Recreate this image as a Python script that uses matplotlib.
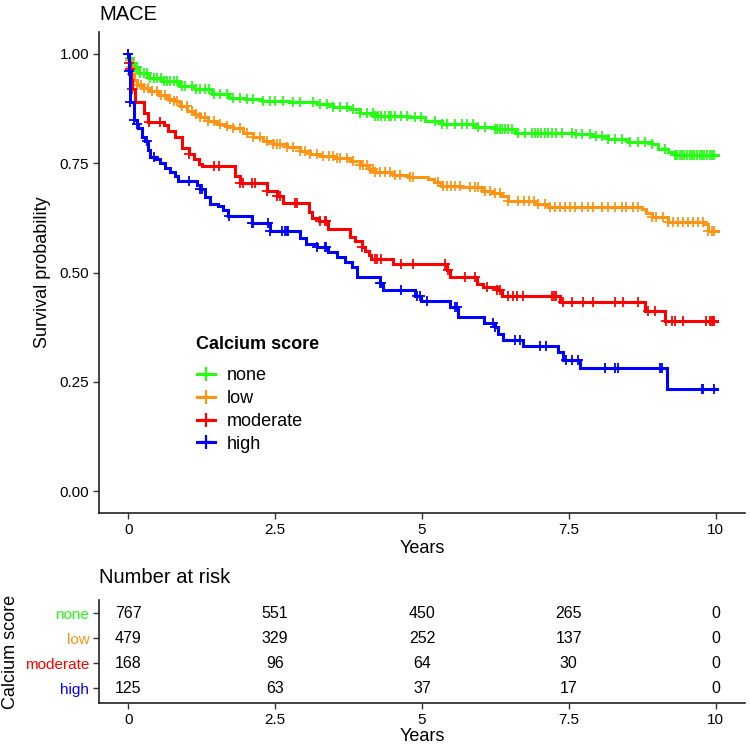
import numpy as np
import matplotlib
matplotlib.use("Agg")
import matplotlib.pyplot as plt

plt.rcParams['font.family'] = ['Liberation Sans', 'DejaVu Sans']

# ---------------- data ----------------
groups = ["none", "low", "moderate", "high"]
colors = ["#22FF11", "#FF9414", "#FF0000", "#0000FF"]

none_t = [0, 0.01, 0.03, 0.09, 0.18, 0.35, 0.57, 0.86, 1.14, 1.42, 1.71, 1.99, 2.27, 2.73,
          3.21, 3.49, 3.78, 3.95, 4.2, 4.77, 5.05, 5.34, 5.90, 6.24, 6.58, 7.60, 7.89,
          8.17, 8.51, 8.91, 9.02, 9.19, 9.30]
none_s = [1.0, 0.99, 0.98, 0.969, 0.957, 0.946, 0.938, 0.927, 0.919, 0.908, 0.90, 0.896,
          0.893, 0.889, 0.885, 0.878, 0.874, 0.866, 0.858, 0.855, 0.847, 0.839, 0.832,
          0.828, 0.820, 0.817, 0.813, 0.805, 0.798, 0.794, 0.782, 0.775, 0.769]
none_cens = [0.0, 0.02, 0.05, 0.08, 0.12, 0.15, 0.2, 0.26, 0.31, 0.37, 0.43, 0.49, 0.55,
             0.60, 0.66, 0.71, 0.78, 0.83, 0.91, 0.97, 1.08, 1.15, 1.22, 1.31, 1.38, 1.45,
             1.56, 1.68, 1.79, 1.90, 2.02, 2.13, 2.30, 2.41, 2.50, 2.64, 2.81, 2.93, 3.15,
             3.27, 3.38, 3.49, 3.61, 3.72, 3.83, 3.95, 4.06, 4.17, 4.20, 4.25, 4.31, 4.37,
             4.43, 4.48, 4.54, 4.65, 4.74, 4.88, 4.99, 5.22, 5.34, 5.42, 5.56, 5.68, 5.76,
             5.87, 5.96, 6.07, 6.24, 6.28, 6.33, 6.37, 6.41, 6.47, 6.53, 6.64, 6.75, 6.87,
             6.92, 6.98, 7.03, 7.09, 7.15, 7.21, 7.29, 7.38, 7.55, 7.63, 7.72, 7.86, 7.97,
             8.06, 8.17, 8.28, 8.40, 8.54, 8.68, 8.79, 8.91, 9.13, 9.30, 9.35, 9.39, 9.43,
             9.47, 9.52, 9.56, 9.60, 9.64, 9.69, 9.73, 9.77, 9.81, 9.86, 9.90, 9.94, 9.98]

low_t = [0, 0.01, 0.03, 0.06, 0.09, 0.15, 0.25, 0.37, 0.5, 0.65, 0.77, 0.88, 1.0, 1.1,
         1.22, 1.35, 1.51, 1.65, 1.79, 1.95, 2.13, 2.3, 2.47, 2.7, 2.93, 3.1, 3.27, 3.5,
         3.78, 3.95, 4.1, 4.2, 4.5, 4.77, 5.11, 5.2, 5.33, 5.68, 6.02, 6.2, 6.36, 6.47,
         6.92, 7.15, 8.74, 8.82, 8.91, 9.19, 9.81, 9.87]
low_s = [1.0, 0.985, 0.97, 0.955, 0.94, 0.93, 0.922, 0.915, 0.905, 0.898, 0.892, 0.882,
         0.87, 0.862, 0.855, 0.847, 0.84, 0.835, 0.831, 0.82, 0.81, 0.80, 0.794, 0.787,
         0.779, 0.772, 0.767, 0.762, 0.756, 0.745, 0.737, 0.729, 0.722, 0.718, 0.714,
         0.706, 0.699, 0.695, 0.687, 0.682, 0.676, 0.664, 0.657, 0.649, 0.645, 0.636,
         0.626, 0.615, 0.611, 0.596]
low_cens = [0.0, 0.02, 0.04, 0.07, 0.10, 0.15, 0.21, 0.26, 0.34, 0.41, 0.49, 0.56, 0.63,
            0.71, 0.77, 0.83, 0.91, 0.99, 1.08, 1.16, 1.22, 1.30, 1.36, 1.45, 1.56, 1.68,
            1.79, 1.90, 2.02, 2.13, 2.24, 2.36, 2.47, 2.53, 2.58, 2.70, 2.81, 2.93, 3.01,
            3.10, 3.21, 3.32, 3.41, 3.49, 3.55, 3.61, 3.72, 3.83, 3.95, 4.00, 4.06, 4.12,
            4.17, 4.20, 4.29, 4.37, 4.46, 4.54, 4.62, 4.79, 4.85, 5.27, 5.36, 5.42, 5.50,
            5.56, 5.65, 5.82, 5.90, 5.96, 6.07, 6.16, 6.24, 6.33, 6.47, 6.64, 6.73, 6.82,
            6.90, 6.98, 7.09, 7.18, 7.26, 7.35, 7.43, 7.52, 7.60, 7.72, 7.83, 7.91, 8.06,
            8.17, 8.28, 8.40, 8.48, 8.59, 8.68, 8.91, 8.99, 9.11, 9.19, 9.27, 9.36, 9.44,
            9.53, 9.61, 9.70, 9.78, 9.87, 9.93, 9.98]

mod_t = [0, 0.01, 0.02, 0.04, 0.06, 0.12, 0.26, 0.34, 0.60, 0.68, 0.80, 0.91, 1.03, 1.11,
         1.20, 1.25, 1.82, 1.90, 2.36, 2.53, 2.64, 3.07, 3.12, 3.24, 3.40, 3.78, 3.86,
         3.97, 4.03, 4.09, 4.14, 4.51, 5.42, 5.48, 5.93, 6.04, 6.27, 6.36, 7.35, 8.79, 9.13]
mod_s = [1.0, 0.98, 0.965, 0.94, 0.92, 0.89, 0.865, 0.845, 0.838, 0.824, 0.809, 0.786,
         0.771, 0.76, 0.748, 0.744, 0.721, 0.704, 0.687, 0.674, 0.658, 0.638, 0.625, 0.617,
         0.60, 0.581, 0.573, 0.558, 0.55, 0.539, 0.531, 0.52, 0.505, 0.489, 0.474, 0.466,
         0.459, 0.447, 0.432, 0.413, 0.389]
mod_cens = [0.0, 0.01, 0.02, 0.06, 0.35, 0.54, 1.03, 1.45, 1.54, 1.90, 1.96, 2.10, 2.16,
            2.36, 2.53, 2.59, 2.84, 2.87, 3.27, 3.35, 3.37, 3.97, 4.20, 4.23, 4.31, 4.65,
            4.85, 5.39, 5.45, 5.73, 5.90, 6.10, 6.27, 6.33, 6.47, 6.55, 6.61, 6.72, 7.21,
            7.25, 7.29, 7.40, 7.55, 7.74, 7.91, 8.28, 8.42, 8.68, 8.85, 8.96, 9.16, 9.25,
            9.30, 9.44, 9.84, 9.90, 9.93, 9.95, 9.98]

high_t = [0, 0.01, 0.02, 0.03, 0.09, 0.15, 0.17, 0.23, 0.29, 0.34, 0.37, 0.46, 0.54, 0.63,
          0.71, 0.80, 0.85, 1.17, 1.22, 1.31, 1.39, 1.53, 1.62, 1.70, 2.1, 2.41, 2.93,
          3.03, 3.21, 3.40, 3.55, 3.69, 3.80, 3.89, 4.29, 4.34, 4.88, 4.98, 5.47, 5.62,
          6.05, 6.24, 6.30, 6.38, 6.72, 7.31, 7.40, 7.69, 9.18]
high_s = [1.0, 0.96, 0.91, 0.89, 0.85, 0.84, 0.83, 0.81, 0.80, 0.78, 0.765, 0.76, 0.75,
          0.74, 0.73, 0.72, 0.71, 0.70, 0.69, 0.672, 0.657, 0.653, 0.642, 0.63, 0.613,
          0.596, 0.58, 0.566, 0.558, 0.546, 0.536, 0.524, 0.512, 0.489, 0.475, 0.461,
          0.447, 0.435, 0.421, 0.398, 0.384, 0.375, 0.36, 0.345, 0.333, 0.318, 0.299,
          0.281, 0.233]
high_cens = [0.0, 0.01, 0.03, 0.09, 0.15, 0.32, 0.43, 1.03, 1.22, 1.25, 1.71, 2.10, 2.13,
             2.38, 2.41, 2.61, 2.67, 2.70, 2.72, 3.21, 3.35, 3.37, 4.29, 4.31, 4.65, 4.91,
             4.97, 5.08, 5.56, 5.59, 6.21, 6.24, 6.58, 6.67, 7.01, 7.12, 7.46, 7.55, 7.66,
             8.11, 8.28, 8.34, 9.05, 9.08, 9.76, 9.78, 9.98]

end_times = [10.04, 10.04, 10.03, 10.03]

risk_times = [0, 2.5, 5, 7.5, 10]
risk_none = [767, 551, 450, 265, 0]
risk_low = [479, 329, 252, 137, 0]
risk_moderate = [168, 96, 64, 30, 0]
risk_high = [125, 63, 37, 17, 0]

x_ticks = [0, 2.5, 5, 7.5, 10]
x_ticklabels = ["0", "2.5", "5", "7.5", "10"]
y_ticks = [0, 0.25, 0.5, 0.75, 1.0]
y_ticklabels = ["0.00", "0.25", "0.50", "0.75", "1.00"]

# ---------------- figure ----------------
fig = plt.figure(figsize=(7.5, 7.46), dpi=100)
ax = fig.add_axes([0.132, 0.3123, 0.8613, 0.6447])
ax2 = fig.add_axes([0.132, 0.0576, 0.8613, 0.1381])

curves = [(none_t, none_s, none_cens), (low_t, low_s, low_cens),
          (mod_t, mod_s, mod_cens), (high_t, high_s, high_cens)]

handles = []
for (t, s, c), col, name, te in zip(curves, colors, groups, end_times):
    tt = np.array(list(t) + [te])
    ss = np.array(list(s) + [s[-1]])
    ax.step(tt, ss, where='post', color=col, lw=2.2, solid_joinstyle='miter')
    c = np.array(c)
    idx = np.searchsorted(np.array(t), c, side='right') - 1
    ax.plot(c, np.array(s)[idx], ls='none', marker='+', ms=7, mew=1.3, color=col)
    h, = ax.plot([], [], color=col, lw=2.2, marker='+', ms=10, mew=1.6, label=name)
    handles.append(h)

ax.set_xlim(-0.5, 10.5)
ax.set_ylim(-0.05, 1.05)
ax.set_xticks(x_ticks)
ax.set_xticklabels(x_ticklabels)
ax.set_yticks(y_ticks)
ax.set_yticklabels(y_ticklabels)
ax.set_xlabel("Years", fontsize=13, labelpad=2)
ax.set_ylabel("Survival probability", fontsize=13, labelpad=6)
ax.set_title("MACE", loc='left', fontsize=14.5, pad=9)

for a in (ax, ax2):
    for side in ('top', 'right'):
        a.spines[side].set_visible(False)
    for side in ('left', 'bottom'):
        a.spines[side].set_linewidth(1.2)
        a.spines[side].set_color('#222222')
    a.tick_params(axis='both', length=4, width=1.0, color='#333333',
                  labelsize=11, labelcolor='black', pad=3)

leg = ax.legend(handles=handles, title="Calcium score", loc='upper left',
                bbox_to_anchor=(0.262, 0.549), bbox_transform=fig.transFigure,
                frameon=False, fontsize=13, title_fontproperties={'weight': 'bold', 'size': 13},
                handlelength=1.0, handletextpad=0.7, labelspacing=0.32,
                borderpad=0, borderaxespad=0, alignment='left')
leg._legend_box.sep = 10

# ---------------- risk table ----------------
risk_rows = [risk_none, risk_low, risk_moderate, risk_high]
row_pos = [4, 3, 2, 1]
for vals, yp in zip(risk_rows, row_pos):
    for xt, v in zip(risk_times, vals):
        ax2.text(xt, yp, str(v), ha='center', va='center', fontsize=11.5)

ax2.set_xlim(-0.5, 10.5)
ax2.set_ylim(0.4, 4.52)
ax2.set_xticks(x_ticks)
ax2.set_xticklabels(x_ticklabels)
ax2.set_yticks(row_pos)
ax2.set_yticklabels(groups)
for lab, col in zip(ax2.get_yticklabels(), colors):
    lab.set_color(col)
ax2.set_xlabel("Years", fontsize=13, labelpad=1)
ax2.set_ylabel("Calcium score", fontsize=13, labelpad=4)
ax2.set_title("Number at risk", loc='left', fontsize=14.5, pad=12)

fig.savefig("out.png", dpi=100)
